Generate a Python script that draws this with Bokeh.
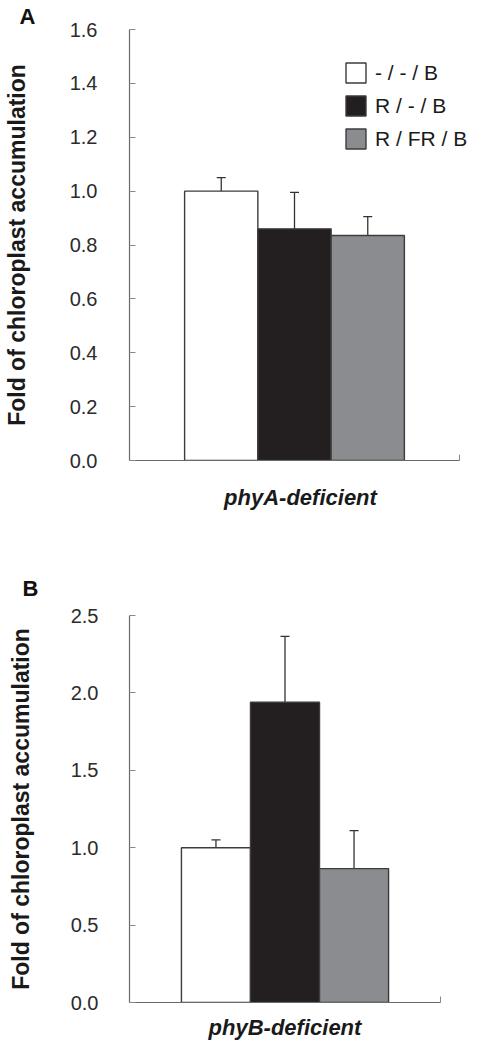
from bokeh.plotting import figure
from bokeh.models import (ColumnDataSource, Whisker, TeeHead, Legend, LegendItem,
                          Range1d, SingleIntervalTicker, FixedTicker, NumeralTickFormatter)
from bokeh.layouts import column
from bokeh.embed import file_html
from bokeh.resources import INLINE

# ---- data ----
treatments = ["- / - / B", "R / - / B", "R / FR / B"]
phyA_group = "phyA-deficient"
phyA_means = [1.00, 0.86, 0.835]
phyA_err = [0.05, 0.135, 0.07]
phyB_group = "phyB-deficient"
phyB_means = [1.00, 1.94, 0.865]
phyB_err = [0.05, 0.425, 0.245]
y_label = "Fold of chloroplast accumulation"
panel_letters = ["A", "B"]

FONT = "Liberation Sans"
fills = ["#ffffff", "#231f20", "#8b8c8f"]
BAR_W = 0.222


def make_panel(group, means, errs, ymax, interval, letter, frame_w, x_end, frame_h,
               b_left, b_top, b_right, b_bottom, lab_standoff, axlab_standoff,
               x_standoff, letter_offset, letter_standoff, legend=False):
    p = figure(x_range=Range1d(0, x_end), y_range=Range1d(0, ymax),
               frame_width=frame_w, frame_height=frame_h,
               min_border_left=b_left, min_border_top=b_top,
               min_border_right=b_right, min_border_bottom=b_bottom,
               output_backend="svg", toolbar_location=None, tools="")
    p.outline_line_color = None
    p.grid.visible = False

    # panel letter as title
    p.title.text = letter
    p.title.align = "left"
    p.title.offset = letter_offset
    p.title.standoff = letter_standoff
    p.title.text_font = FONT
    p.title.text_font_size = "22px"
    p.title.text_font_style = "bold"
    p.title.text_color = "#111111"

    renderers = []
    for i, t in enumerate(treatments):
        xc = 0.5 + (i - 1) * BAR_W
        src = ColumnDataSource(dict(x=[xc], top=[means[i]],
                                    upper=[means[i] + errs[i]], lower=[means[i] - errs[i]]))
        r = p.vbar(x="x", top="top", width=BAR_W, source=src,
                   fill_color=fills[i], line_color="#3c3c3c", line_width=1.4)
        renderers.append(r)
        w = Whisker(base="x", upper="upper", lower="lower", source=src,
                    line_color="#333333", line_width=1.3,
                    upper_head=TeeHead(size=9, line_color="#333333", line_width=1.3),
                    lower_head=TeeHead(size=9, line_color="#333333", line_width=1.3))
        p.add_layout(w)

    # y axis
    ya = p.yaxis[0]
    ya.ticker = SingleIntervalTicker(interval=interval)
    ya.formatter = NumeralTickFormatter(format="0.0")
    ya.axis_line_color = "#6a6a6a"
    ya.axis_line_width = 1.2
    ya.major_tick_in = 6
    ya.major_tick_out = 0
    ya.major_tick_line_color = "#8a8a8a"
    ya.minor_tick_line_color = None
    ya.major_label_text_font = FONT
    ya.major_label_text_font_size = "20px"
    ya.major_label_text_color = "#2b2b2b"
    ya.major_label_standoff = lab_standoff
    ya.axis_label = y_label
    ya.axis_label_text_font = FONT
    ya.axis_label_text_font_size = "23px"
    ya.axis_label_text_font_style = "bold"
    ya.axis_label_text_color = "#1a1a1a"
    ya.axis_label_standoff = axlab_standoff

    # x axis (single group; only a closing tick mark at the right end)
    xa = p.xaxis[0]
    xa.bounds = (0, 1)
    xa.ticker = FixedTicker(ticks=[], minor_ticks=[1.0])
    xa.axis_line_color = "#6a6a6a"
    xa.axis_line_width = 1.2
    xa.major_tick_line_color = None
    xa.minor_tick_in = 6
    xa.minor_tick_out = 0
    xa.minor_tick_line_color = "#8a8a8a"
    xa.major_label_standoff = 0
    xa.axis_label = group
    xa.axis_label_text_font = FONT
    xa.axis_label_text_font_size = "22px"
    xa.axis_label_text_font_style = "bold italic"
    xa.axis_label_text_color = "#1a1a1a"
    xa.axis_label_standoff = x_standoff

    if legend:
        items = [LegendItem(label=t, renderers=[r]) for t, r in zip(treatments, renderers)]
        lg = Legend(items=items, location=(214, 309), orientation="vertical",
                    glyph_width=25, glyph_height=25, label_height=25, spacing=8,
                    label_standoff=7, padding=0, margin=0,
                    border_line_color=None, background_fill_alpha=0,
                    label_text_font=FONT, label_text_font_size="21px",
                    label_text_color="#1a1a1a")
        p.add_layout(lg, "center")
    return p


pA = make_panel(phyA_group, phyA_means, phyA_err, 1.6, 0.2, panel_letters[0],
                frame_w=342, x_end=342 / 330, frame_h=431,
                b_left=123, b_top=22, b_right=0, b_bottom=87,
                lab_standoff=28, axlab_standoff=37, x_standoff=24,
                letter_offset=-110, letter_standoff=2, legend=True)
pB = make_panel(phyB_group, phyB_means, phyB_err, 2.5, 0.5, panel_letters[1],
                frame_w=311, x_end=1.0, frame_h=387,
                b_left=119, b_top=68, b_right=20, b_bottom=38,
                lab_standoff=27, axlab_standoff=34, x_standoff=12,
                letter_offset=-107, letter_standoff=30)

layout = column(pA, pB, spacing=0)
open("out.html", "w").write(file_html(layout, INLINE))
